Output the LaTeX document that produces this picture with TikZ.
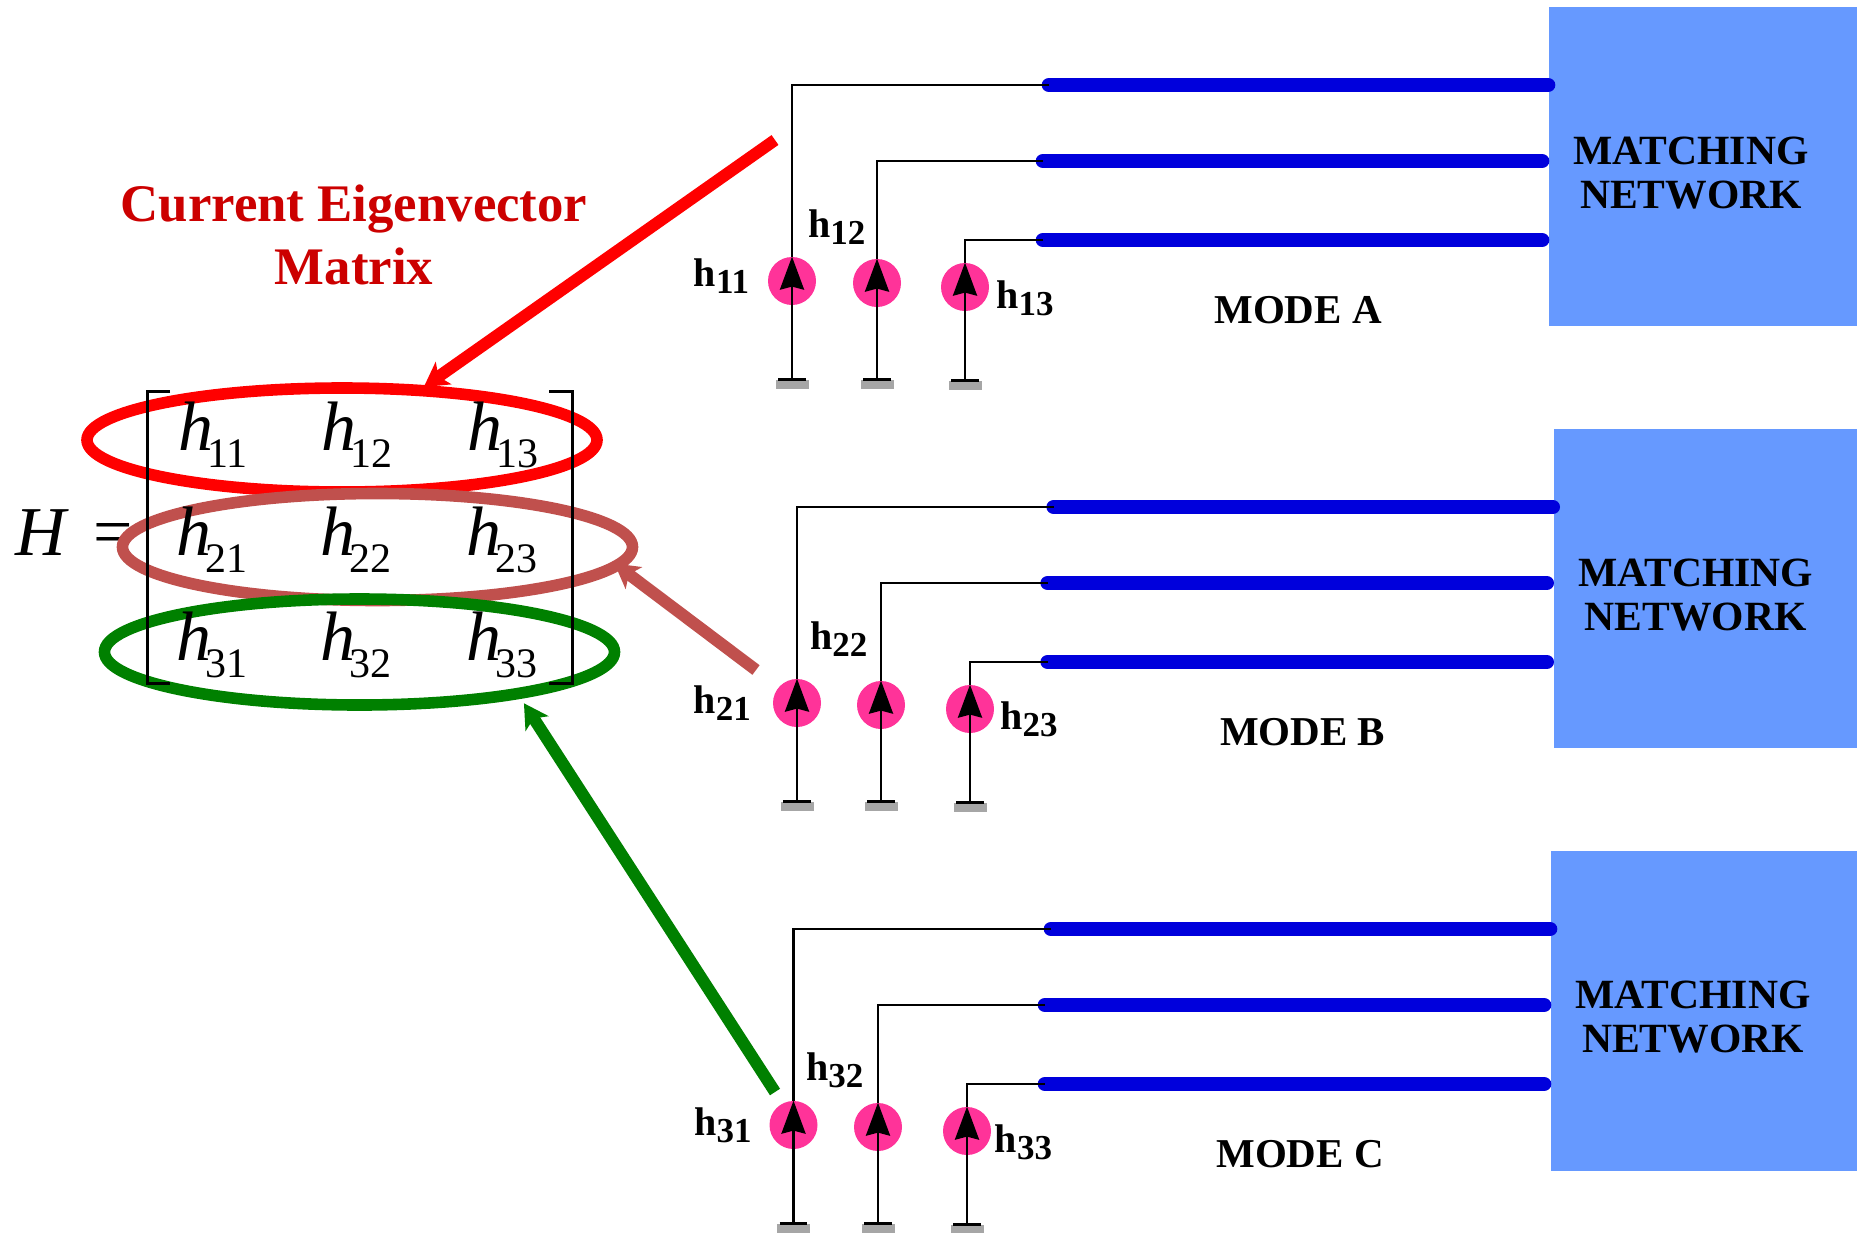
\documentclass[tikz,border=0pt]{standalone}
\usepackage{fontspec}
\setmainfont{Liberation Serif}
\usetikzlibrary{arrows.meta, positioning, shapes.geometric}

\definecolor{boxblue}{RGB}{102,153,255}
\definecolor{feedblue}{RGB}{0,0,220}
\definecolor{srcpink}{RGB}{255,51,153}
\definecolor{ringred}{RGB}{255,0,0}
\definecolor{ringbrown}{RGB}{192,80,77}
\definecolor{ringgreen}{RGB}{0,128,0}
\definecolor{titlered}{RGB}{204,0,0}

\newcommand{\wirename}[1]{h\raisebox{-3.5pt}{\fontsize{17.5}{17.5}\selectfont #1}}
\newcommand{\entryname}[1]{\textit{h}\kern-3pt\raisebox{-8.5pt}{\fontsize{21}{21}\selectfont #1}}

\begin{document}
\begin{tikzpicture}[
        x=0.5pt,
        y=-0.5pt,
        matchbox/.style={
            fill=boxblue,
            inner sep=0pt
        },
        boxtext/.style={
            align=center,
            inner sep=0pt,
            font=\fontsize{20.8}{22}\selectfont\bfseries
        },
        modetext/.style={
            inner sep=0pt,
            font=\fontsize{20.5}{24}\selectfont\bfseries
        },
        feedline/.style={
            line width=7.3pt,
            line cap=round,
            feedblue
        },
        wire/.style={
            line width=1.4pt
        },
        srccircle/.style={
            circle,
            fill=srcpink,
            minimum size=24pt,
            inner sep=0pt
        },
        srcarrow/.style={
            -{Stealth[length=16.5pt, width=12pt, inset=1.5pt]},
            line width=1.4pt
        },
        groundplate/.style={
            fill=black!35,
            minimum width=16.5pt,
            minimum height=4.5pt,
            inner sep=0pt
        },
        groundbar/.style={
            line width=1.5pt,
            shorten <=1.5pt,
            shorten >=1.5pt
        },
        wirelabel/.style={
            inner sep=0pt,
            font=\fontsize{20}{24}\selectfont\bfseries
        },
        entry/.style={
            anchor=base,
            inner sep=0pt,
            font=\fontsize{35}{40}\selectfont
        },
        rowring/.style={
            draw,
            ellipse,
            line width=5.8pt,
            minimum width=255pt,
            inner sep=0pt
        },
        rowarrow/.style={
            -{Stealth[length=12pt, width=13.5pt, inset=3pt]},
            line width=6pt
        },
        bracket/.style={
            line width=1.5pt
        }
    ]

        \useasboundingbox (0,0) rectangle (1857,1232);

        % ---------------------------------------------------------------------
        % Matrix rows
        % ---------------------------------------------------------------------

        \node[
            entry,
            anchor=base west
        ] (hname) at (15,555) {\textit{H}\hspace{3.5pt} =};

        \node[rowring, ringred, minimum height=52pt] (row1) at (342,440) {};
        \node[rowring, ringbrown, minimum height=53.5pt] (row2) at (377.5,547) {};
        \node[rowring, ringgreen, minimum height=53pt] (row3) at (359.5,652) {};

        \node[entry] (h11) at (213,450) {\entryname{11}};
        \node[entry] (h12) at (357,450) {\entryname{12}};
        \node[entry] (h13) at (503,450) {\entryname{13}};
        \node[entry] (h21) at (212,555) {\entryname{21}};
        \node[entry] (h22) at (356,555) {\entryname{22}};
        \node[entry] (h23) at (502,555) {\entryname{23}};
        \node[entry] (h31) at (212,660) {\entryname{31}};
        \node[entry] (h32) at (356,660) {\entryname{32}};
        \node[entry] (h33) at (502,660) {\entryname{33}};

        \draw[bracket] (170,391) -- (147,391) -- (147,683) -- (170,683);
        \draw[bracket] (549,391) -- (572,391) -- (572,683) -- (549,683);

        \node[
            align=center,
            inner sep=0pt,
            titlered,
            font=\fontsize{26.4}{31.5}\selectfont\bfseries
        ] (title) at (354,235) {
            Current Eigenvector\\
            Matrix
        };

        % ---------------------------------------------------------------------
        % Mode A
        % ---------------------------------------------------------------------

        \node[matchbox, minimum width=154pt, minimum height=159.5pt] (boxA) at (1703,166.5) {};
        \node[boxtext] (textA) at (1691,173) {MATCHING\\NETWORK};
        \node[modetext] (modeA) at (1298,310) {MODE A};

        \coordinate (feed11) at (1049,85);
        \coordinate (feed12) at (1043,161);
        \coordinate (feed13) at (1043,240);
        \coordinate (port11) at (1548,85);
        \coordinate (port12) at (1542,161);
        \coordinate (port13) at (1542,240);

        \node[srccircle] (source11) at (792,281) {};
        \node[srccircle] (source12) at (877,283) {};
        \node[srccircle] (source13) at (965,287) {};

        \node[groundplate] (ground11) at (792,384) {};
        \node[groundplate] (ground12) at (877,384) {};
        \node[groundplate] (ground13) at (965,385) {};

        \node[wirelabel, left=9pt of source11, yshift=2.5pt] (label11) {\wirename{11}};
        \node[wirelabel, above left=10.5pt and -3pt of source12] (label12) {\wirename{12}};
        \node[wirelabel, right=3.3pt of source13, yshift=-5.5pt] (label13) {\wirename{13}};

        \draw[feedline] (feed11) -- (port11);
        \draw[feedline] (feed12) -- (port12);
        \draw[feedline] (feed13) -- (port13);

        \draw[wire] (source11.north) |- (feed11);
        \draw[wire] (source12.north) |- (feed12);
        \draw[wire] (source13.north) |- (feed13);

        \draw[srcarrow] (source11.south) -- (source11.north);
        \draw[srcarrow] (source12.south) -- (source12.north);
        \draw[srcarrow] (source13.south) -- (source13.north);

        \draw[wire] (ground11.north) -- (source11.south);
        \draw[wire] (ground12.north) -- (source12.south);
        \draw[wire] (ground13.north) -- (source13.south);

        \draw[groundbar] (ground11.north west) -- (ground11.north east);
        \draw[groundbar] (ground12.north west) -- (ground12.north east);
        \draw[groundbar] (ground13.north west) -- (ground13.north east);

        % ---------------------------------------------------------------------
        % Mode B
        % ---------------------------------------------------------------------

        \node[matchbox, minimum width=151.5pt, minimum height=159.5pt] (boxB) at (1705.5,588.5) {};
        \node[boxtext] (textB) at (1695.7,595) {MATCHING\\NETWORK};
        \node[modetext] (modeB) at (1302.7,732) {MODE B};

        \coordinate (feed21) at (1053.7,507);
        \coordinate (feed22) at (1047.7,583);
        \coordinate (feed23) at (1047.7,662);
        \coordinate (port21) at (1552.7,507);
        \coordinate (port22) at (1546.7,583);
        \coordinate (port23) at (1546.7,662);

        \node[srccircle] (source21) at (797,703) {};
        \node[srccircle] (source22) at (881,705) {};
        \node[srccircle] (source23) at (970,709) {};

        \node[groundplate] (ground21) at (797,806) {};
        \node[groundplate] (ground22) at (881,806) {};
        \node[groundplate] (ground23) at (970,807) {};

        \node[wirelabel, left=10.7pt of source21] (label21) {\wirename{21}};
        \node[wirelabel, above left=15.3pt and -2pt of source22] (label22) {\wirename{22}};
        \node[wirelabel, right=2.8pt of source23, yshift=-5pt] (label23) {\wirename{23}};

        \draw[feedline] (feed21) -- (port21);
        \draw[feedline] (feed22) -- (port22);
        \draw[feedline] (feed23) -- (port23);

        \draw[wire] (source21.north) |- (feed21);
        \draw[wire] (source22.north) |- (feed22);
        \draw[wire] (source23.north) |- (feed23);

        \draw[srcarrow] (source21.south) -- (source21.north);
        \draw[srcarrow] (source22.south) -- (source22.north);
        \draw[srcarrow] (source23.south) -- (source23.north);

        \draw[wire] (ground21.north) -- (source21.south);
        \draw[wire] (ground22.north) -- (source22.south);
        \draw[wire] (ground23.north) -- (source23.south);

        \draw[groundbar] (ground21.north west) -- (ground21.north east);
        \draw[groundbar] (ground22.north west) -- (ground22.north east);
        \draw[groundbar] (ground23.north west) -- (ground23.north east);

        % ---------------------------------------------------------------------
        % Mode C
        % ---------------------------------------------------------------------

        \node[matchbox, minimum width=153pt, minimum height=160pt] (boxC) at (1704,1011) {};
        \node[boxtext] (textC) at (1693,1017) {MATCHING\\NETWORK};
        \node[modetext] (modeC) at (1300,1154) {MODE C};

        \coordinate (feed31) at (1051,929);
        \coordinate (feed32) at (1045,1005);
        \coordinate (feed33) at (1045,1084);
        \coordinate (port31) at (1550,929);
        \coordinate (port32) at (1544,1005);
        \coordinate (port33) at (1544,1084);

        \node[srccircle] (source31) at (793.5,1125) {};
        \node[srccircle] (source32) at (878,1127) {};
        \node[srccircle] (source33) at (967,1131) {};

        \node[groundplate] (ground31) at (793.5,1228) {};
        \node[groundplate] (ground32) at (878,1228) {};
        \node[groundplate] (ground33) at (967,1229) {};

        \node[wirelabel, left=8.6pt of source31] (label31) {\wirename{31}};
        \node[wirelabel, above left=10.8pt and -1.5pt of source32] (label32) {\wirename{32}};
        \node[wirelabel, right=1.5pt of source33, yshift=-5.5pt] (label33) {\wirename{33}};

        \draw[feedline] (feed31) -- (port31);
        \draw[feedline] (feed32) -- (port32);
        \draw[feedline] (feed33) -- (port33);

        \draw[wire] (source31.north) |- (feed31);
        \draw[wire] (source32.north) |- (feed32);
        \draw[wire] (source33.north) |- (feed33);

        \draw[srcarrow] (source31.south) -- (source31.north);
        \draw[srcarrow] (source32.south) -- (source32.north);
        \draw[srcarrow] (source33.south) -- (source33.north);

        \draw[wire] (ground31.north) -- (source31.south);
        \draw[wire] (ground32.north) -- (source32.south);
        \draw[wire] (ground33.north) -- (source33.south);

        \draw[groundbar] (ground31.north west) -- (ground31.north east);
        \draw[groundbar] (ground32.north west) -- (ground32.north east);
        \draw[groundbar] (ground33.north west) -- (ground33.north east);

        % ---------------------------------------------------------------------
        % Arrows to the matrix rows
        % ---------------------------------------------------------------------

        \coordinate (tailA) at (775,140);
        \coordinate (tailB) at (756,670);
        \coordinate (tailC) at (775,1092);

        \draw[rowarrow, ringred, shorten >=-1.5pt] (tailA) -- (row1.33);
        \draw[rowarrow, ringbrown, shorten >=-4pt] (tailB) -- (row2.-5.5);
        \draw[rowarrow, ringgreen, shorten >=3pt] (tailC) -- (row3.-16.2);

    \end{tikzpicture}
\end{document}
